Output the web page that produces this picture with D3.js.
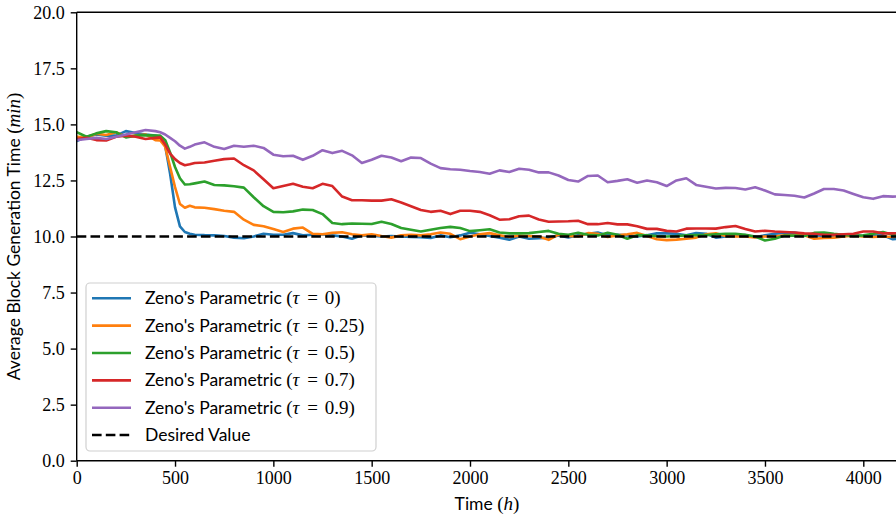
<!DOCTYPE html>
<html><head><meta charset="utf-8">
<script src="https://cdn.jsdelivr.net/npm/d3@7"></script>
<style>body{margin:0;background:#fff}svg{display:block}</style>
</head><body>
<svg id="chart" width="896" height="518"></svg>
<script>
const times = [0,50,100,150,200,250,300,350,400,425,450,475,500,525,550,575,600,650,700,750,800,850,900,950,1000,1050,1100,1150,1200,1250,1300,1350,1400,1450,1500,1550,1600,1650,1700,1750,1800,1850,1900,1950,2000,2050,2100,2150,2200,2250,2300,2350,2400,2450,2500,2550,2600,2650,2700,2750,2800,2850,2900,2950,3000,3050,3100,3150,3200,3250,3300,3350,3400,3450,3500,3550,3600,3650,3700,3750,3800,3850,3900,3950,4000,4050,4100,4150,4200];

const tau0 = [14.26,14.45,14.55,14.5,14.5,14.7,14.62,14.55,14.5,14.45,14.05,12.8,11.3,10.45,10.2,10.12,10.08,10.06,10.05,10.02,9.95,9.92,10.0,10.12,10.08,10.08,10.15,10.05,10.08,10.1,10.05,10.0,9.9,10.05,10.03,10.0,10.02,10.0,9.98,9.97,9.93,10.05,9.97,10.05,10.17,10.1,10.02,9.95,9.86,10.0,9.9,9.92,9.95,10.05,9.96,10.06,10.12,10.18,10.05,10.08,10.05,10.0,10.06,10.14,10.14,10.12,10.05,10.15,10.12,9.95,10.0,10.02,10.06,9.98,10.05,10.12,10.16,10.18,10.1,10.05,10.04,10.03,10.05,10.06,10.02,10.04,10.05,9.88,9.9];

const tau025 = [14.45,14.42,14.58,14.53,14.65,14.45,14.5,14.55,14.3,14.28,14.0,13.1,12.2,11.45,11.28,11.37,11.3,11.28,11.22,11.15,11.1,10.75,10.52,10.46,10.33,10.2,10.35,10.4,10.12,10.1,10.16,10.19,10.1,10.05,10.1,10.02,9.95,10.05,10.08,10.05,10.1,10.18,10.12,9.88,10.0,10.1,10.15,10.06,9.98,10.03,10.02,10.0,9.85,10.08,10.02,10.0,10.15,10.12,9.98,10.05,10.1,10.16,10.02,9.88,9.84,9.86,9.9,9.95,10.1,10.14,10.02,10.0,10.0,9.96,10.0,10.0,10.05,10.04,10.06,9.9,9.93,9.95,10.0,10.04,10.0,9.98,10.0,9.98,10.0];

const tau05 = [14.65,14.45,14.6,14.7,14.65,14.42,14.5,14.52,14.5,14.5,14.3,13.75,13.1,12.6,12.32,12.33,12.37,12.45,12.3,12.28,12.24,12.18,11.75,11.35,11.1,11.08,11.12,11.2,11.18,11.0,10.6,10.55,10.58,10.57,10.56,10.66,10.56,10.38,10.3,10.22,10.3,10.38,10.43,10.38,10.24,10.28,10.32,10.18,10.14,10.14,10.15,10.2,10.25,10.12,10.08,10.17,10.08,10.05,10.17,10.08,9.9,10.06,10.05,10.02,10.0,10.02,10.05,10.06,10.06,10.1,10.12,10.12,10.08,10.0,9.82,9.9,10.04,10.04,10.02,10.16,10.18,10.12,10.08,10.02,10.05,10.12,10.2,10.08,10.05];

const tau07 = [14.35,14.4,14.3,14.28,14.45,14.5,14.45,14.35,14.4,14.42,14.1,13.7,13.45,13.28,13.18,13.22,13.28,13.3,13.38,13.45,13.48,13.18,12.95,12.55,12.15,12.25,12.35,12.22,12.15,12.35,12.25,11.78,11.62,11.62,11.6,11.6,11.66,11.52,11.35,11.18,11.1,11.15,11.0,11.15,11.15,11.1,10.95,10.75,10.77,10.9,10.93,10.76,10.66,10.67,10.68,10.7,10.55,10.55,10.6,10.54,10.54,10.46,10.34,10.34,10.25,10.22,10.35,10.36,10.36,10.35,10.42,10.47,10.33,10.22,10.26,10.22,10.2,10.18,10.14,10.12,10.08,10.08,10.1,10.12,10.22,10.22,10.14,10.14,10.15];

const tau09 = [14.3,14.35,14.4,14.35,14.45,14.55,14.65,14.75,14.7,14.65,14.55,14.4,14.25,14.05,13.92,14.0,14.1,14.2,14.0,13.9,14.05,14.0,14.05,13.95,13.65,13.58,13.6,13.42,13.6,13.85,13.72,13.82,13.62,13.28,13.42,13.6,13.52,13.36,13.52,13.5,13.25,13.05,13.0,12.98,12.92,12.88,12.8,12.95,12.88,13.02,12.98,12.86,12.86,12.72,12.52,12.45,12.7,12.72,12.42,12.48,12.55,12.4,12.5,12.42,12.25,12.5,12.6,12.3,12.22,12.14,12.17,12.16,12.1,12.2,12.05,11.88,11.85,11.82,11.74,11.92,12.12,12.12,12.05,11.9,11.75,11.68,11.8,11.78,11.8];

const desiredValue = 10;
const seriesNames = ["0", "0.25", "0.5", "0.7", "0.9"];
const seriesValues = [tau0, tau025, tau05, tau07, tau09];
const seriesColors = ["#1f77b4", "#ff7f0e", "#2ca02c", "#d62728", "#9467bd"];
const xTicks = [0,500,1000,1500,2000,2500,3000,3500,4000];
const yTicks = [0,2.5,5,7.5,10,12.5,15,17.5,20];

const svg = d3.select("#chart");
const pL = 76.7, pR = 897, pT = 12.3, pB = 460.7;
const x = d3.scaleLinear().domain([0, 4000]).range([pL, 863.3]);
const y = d3.scaleLinear().domain([0, 20]).range([pB, pT]);

const serif = "'Liberation Serif', 'DejaVu Serif', serif";
const sans = "Lato, 'Open Sans', sans-serif";
const sansSize = "17.5px", mathSize = "19px";

svg.append("defs").append("clipPath").attr("id","clip")
  .append("rect").attr("x", pL).attr("y", pT).attr("width", pR-pL).attr("height", pB-pT);

const plot = svg.append("g").attr("clip-path","url(#clip)");
const line = d3.line().x((d,i)=>x(times[i])).y(d=>y(d));
seriesValues.forEach((vals, k) => {
  plot.append("path").datum(vals).attr("d", line)
    .attr("fill","none").attr("stroke", seriesColors[k]).attr("stroke-width", 2.6)
    .attr("stroke-linejoin","round").attr("stroke-linecap","square");
});
plot.append("line").attr("x1", pL).attr("x2", pR)
  .attr("y1", y(desiredValue)).attr("y2", y(desiredValue))
  .attr("stroke","#000").attr("stroke-width",2.6).attr("stroke-dasharray","9.6,4.2");

// spines
const spine = svg.append("g").attr("stroke","#000").attr("stroke-width",1.4);
spine.append("line").attr("x1",pL).attr("x2",pL).attr("y1",pT).attr("y2",pB);
spine.append("line").attr("x1",pL).attr("x2",pR).attr("y1",pT).attr("y2",pT);
spine.append("line").attr("x1",pL).attr("x2",pR).attr("y1",pB).attr("y2",pB);

// axes
const xAxis = svg.append("g").attr("transform",`translate(0,${pB})`)
  .call(d3.axisBottom(x).tickValues(xTicks).tickSize(6).tickPadding(5).tickFormat(d3.format("d")));
const yAxis = svg.append("g").attr("transform",`translate(${pL},0)`)
  .call(d3.axisLeft(y).tickValues(yTicks).tickSize(6).tickPadding(6).tickFormat(d3.format(".1f")));
[xAxis, yAxis].forEach(a => {
  a.select(".domain").remove();
  a.selectAll(".tick line").attr("stroke","#000").attr("stroke-width",1.4);
  a.selectAll(".tick text").attr("fill","#000").style("font-family", serif).style("font-size","18px");
});

// axis labels
const xl = svg.append("text").attr("x", 487).attr("y", 510).attr("text-anchor","middle")
  .style("font-family", sans).style("font-size",sansSize).attr("fill","#000");
xl.append("tspan").text("Time ");
xl.append("tspan").style("font-family", serif).style("font-size",mathSize).text("(");
xl.append("tspan").style("font-family", serif).style("font-size",mathSize).style("font-style","italic").text("h");
xl.append("tspan").style("font-family", serif).style("font-size",mathSize).text(")");

const yl = svg.append("text").attr("transform",`translate(20,${(pT+pB)/2}) rotate(-90)`)
  .attr("text-anchor","middle").style("font-family", sans).style("font-size",sansSize).attr("fill","#000");
yl.append("tspan").text("Average Block Generation Time ");
yl.append("tspan").style("font-family", serif).style("font-size",mathSize).text("(");
yl.append("tspan").style("font-family", serif).style("font-size",mathSize).style("font-style","italic").text("min");
yl.append("tspan").style("font-family", serif).style("font-size",mathSize).text(")");

// legend
const lg = svg.append("g");
lg.append("rect").attr("x",86).attr("y",283).attr("width",290).attr("height",168).attr("rx",4)
  .attr("fill","#fff").attr("fill-opacity",0.8).attr("stroke","#d0d0d0").attr("stroke-width",1.2);
const rowY = i => 298.3 + i*27.35;
seriesNames.forEach((nm,i) => {
  lg.append("line").attr("x1",92).attr("x2",131).attr("y1",rowY(i)).attr("y2",rowY(i))
    .attr("stroke",seriesColors[i]).attr("stroke-width",2.6);
  const t = lg.append("text").attr("x",145).attr("y",rowY(i)+6).style("font-family",sans)
    .style("font-size",sansSize).attr("fill","#000");
  t.append("tspan").text("Zeno's Parametric ");
  t.append("tspan").style("font-family",serif).style("font-size",mathSize).text("(");
  t.append("tspan").style("font-family",serif).style("font-size",mathSize).style("font-style","italic").text("τ");
  t.append("tspan").attr("dx",3).style("font-family",serif).style("font-size",mathSize).text(" = ");
  t.append("tspan").attr("dx",2).style("font-family",serif).style("font-size",mathSize).text(nm + ")");
});
lg.append("line").attr("x1",92).attr("x2",131).attr("y1",rowY(5)).attr("y2",rowY(5))
  .attr("stroke","#000").attr("stroke-width",2.6).attr("stroke-dasharray","9.6,4.2");
lg.append("text").attr("x",145).attr("y",rowY(5)+6).style("font-family",sans)
  .style("font-size",sansSize).attr("fill","#000").text("Desired Value");
</script>
</body></html>
